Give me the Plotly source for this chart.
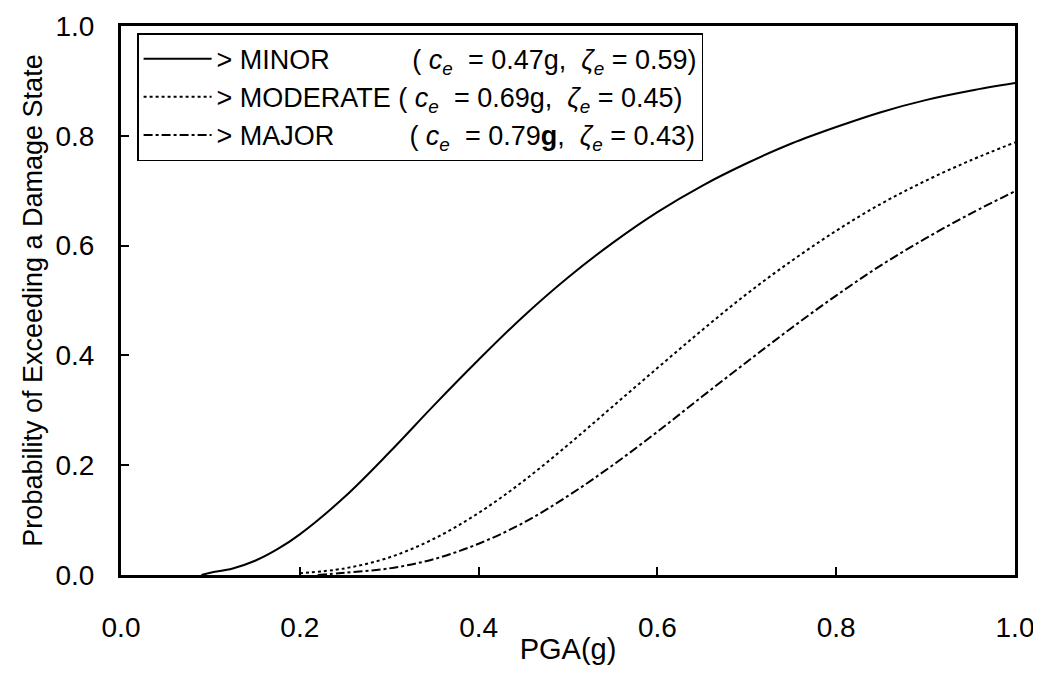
import plotly.graph_objects as go

# PGA values (g) and probability of exceeding each damage state
pga_minor = [0.09, 0.10, 0.125, 0.15, 0.175, 0.20, 0.25, 0.30, 0.35, 0.40, 0.45, 0.50, 0.55, 0.60, 0.65, 0.70, 0.75, 0.80, 0.85, 0.90, 0.95, 1.00]
p_minor = [0.0, 0.004, 0.012, 0.026, 0.047, 0.074, 0.142, 0.223, 0.309, 0.392, 0.471, 0.542, 0.605, 0.661, 0.709, 0.750, 0.786, 0.816, 0.843, 0.865, 0.882, 0.896]

pga_moderate = [0.20, 0.25, 0.30, 0.35, 0.40, 0.45, 0.50, 0.55, 0.60, 0.65, 0.70, 0.75, 0.80, 0.85, 0.90, 0.95, 1.00]
p_moderate = [0.003, 0.012, 0.032, 0.066, 0.113, 0.171, 0.237, 0.307, 0.377, 0.446, 0.512, 0.572, 0.627, 0.676, 0.718, 0.755, 0.788]

pga_major = [0.22, 0.25, 0.30, 0.35, 0.40, 0.45, 0.50, 0.55, 0.60, 0.65, 0.70, 0.75, 0.80, 0.85, 0.90, 0.95, 1.00]
p_major = [0.0, 0.004, 0.012, 0.029, 0.057, 0.095, 0.144, 0.200, 0.261, 0.325, 0.388, 0.450, 0.509, 0.564, 0.613, 0.658, 0.699]

tick_vals = [0, 0.2, 0.4, 0.6, 0.8, 1.0]
tick_text = ["0.0", "0.2", "0.4", "0.6", "0.8", "1.0"]

NB = "\u00a0"
names = [
    "&gt; MINOR" + NB * 11 + "( <i>c</i><sub><i>e</i></sub> " + NB + "= 0.47g, " + NB + "<i>\u03b6</i><sub><i>e</i></sub> = 0.59)",
    "&gt; MODERATE ( <i>c</i><sub><i>e</i></sub> " + NB + "= 0.69g, " + NB + "<i>\u03b6</i><sub><i>e</i></sub> = 0.45)",
    "&gt; MAJOR" + NB * 10 + "( <i>c</i><sub><i>e</i></sub> " + NB + "= 0.79<b>g</b>, " + NB + "<i>\u03b6</i><sub><i>e</i></sub> = 0.43)",
]

FONT = "Arial, Liberation Sans, sans-serif"

fig = go.Figure()
fig.add_trace(go.Scatter(x=pga_minor, y=p_minor, mode="lines", name=names[0],
                         line=dict(color="black", width=2, shape="spline")))
fig.add_trace(go.Scatter(x=pga_moderate, y=p_moderate, mode="lines", name=names[1],
                         line=dict(color="black", width=2, dash="dot", shape="spline")))
fig.add_trace(go.Scatter(x=pga_major, y=p_major, mode="lines", name=names[2],
                         line=dict(color="black", width=2, dash="dashdot", shape="spline")))

fig.update_layout(
    width=1033, height=657,
    margin=dict(l=113, r=26, t=18, b=90, autoexpand=False),
    paper_bgcolor="white", plot_bgcolor="white",
    font=dict(family=FONT, color="black", size=24),
    showlegend=True,
    legend=dict(x=0.018, y=0.987, xanchor="left", yanchor="top",
                bordercolor="black", borderwidth=1.5, bgcolor="white",
                itemwidth=68,
                font=dict(size=27, family=FONT)),
)
fig.update_xaxes(range=[0, 1], tickvals=tick_vals, ticktext=tick_text,
                 ticks="inside", ticklen=8, tickwidth=2, tickcolor="black",
                 showline=True, linewidth=3, linecolor="black", mirror=True,
                 showgrid=False, zeroline=False, automargin=False,
                 ticklabelstandoff=25, ticklabeloverflow="allow",
                 title=dict(text="PGA(g)", standoff=4, font=dict(size=29)),
                 tickfont=dict(size=28))
fig.update_yaxes(range=[0, 1], tickvals=tick_vals, ticktext=tick_text,
                 ticks="inside", ticklen=8, tickwidth=2, tickcolor="black",
                 showline=True, linewidth=3, linecolor="black", mirror=True,
                 showgrid=False, zeroline=False, automargin=False,
                 ticklabelstandoff=18,
                 title=dict(text="Probability of Exceeding a Damage State", standoff=6, font=dict(size=27)),
                 tickfont=dict(size=28))

fig.write_html("out.html")
